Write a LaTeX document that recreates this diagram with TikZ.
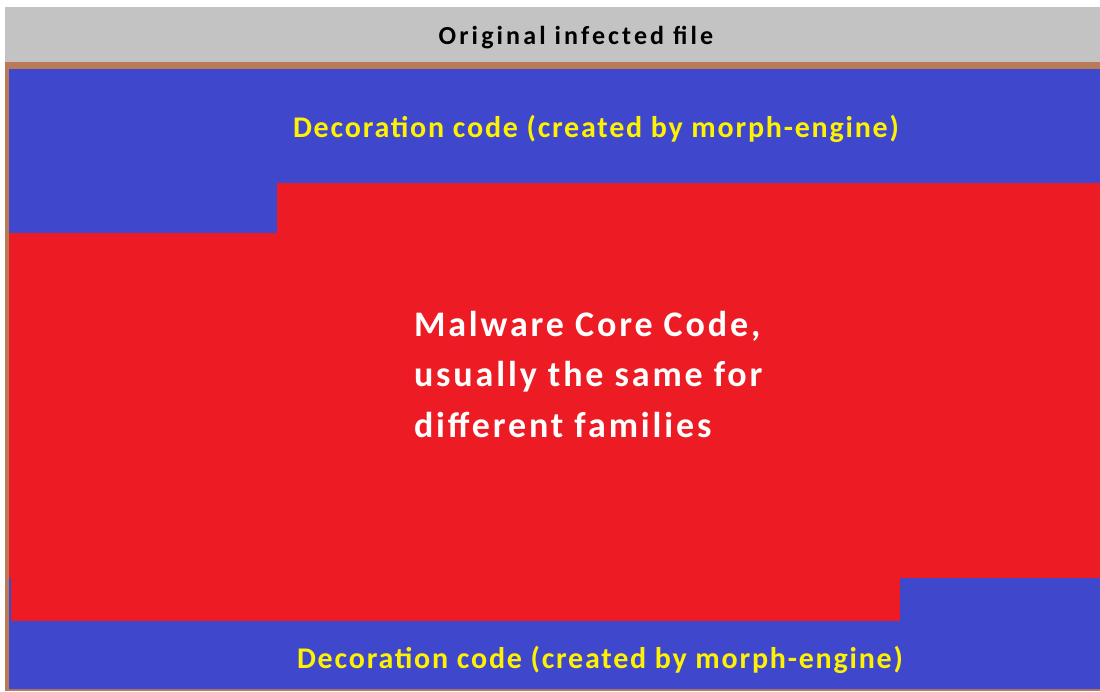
\documentclass[tikz,border=0pt]{standalone}
\usepackage{fontspec}
\setmainfont{Carlito}
\newfontfamily\titlefont[LetterSpace=12]{Carlito}
\newfontfamily\decofont[LetterSpace=6]{Carlito}
\newfontfamily\corefont[LetterSpace=8]{Carlito}
\definecolor{bandgray}{HTML}{C3C3C3}
\definecolor{framebrown}{HTML}{B97A57}
\definecolor{decoblue}{HTML}{3F48CC}
\definecolor{corered}{HTML}{ED1C24}
\definecolor{decoyellow}{HTML}{FFF200}
\tikzset{
  lbl/.style={inner sep=0pt, outer sep=0pt, anchor=base},
  toplbl/.style={lbl, text=black, font=\titlefont\bfseries\fontsize{26}{31}\selectfont},
  decolbl/.style={lbl, text=decoyellow, font=\decofont\bfseries\fontsize{30}{36}\selectfont},
  corelbl/.style={lbl, text=white, font=\corefont\bfseries\fontsize{36}{50}\selectfont, anchor=base west},
}
\begin{document}
\begin{tikzpicture}[x=1pt,y=-1pt]
\useasboundingbox (0,0) rectangle (1100,691);
\fill[white] (0,0) rectangle (1100,691);
% header band
\fill[bandgray] (5,7) rectangle (1100,62);
% frame
\fill[framebrown] (5,62) rectangle (1100,691);
% top decoration
\fill[decoblue] (9,69) -- (1100,69) -- (1100,183) -- (277,183) -- (277,233) -- (9,233) -- cycle;
% core
\fill[corered] (277,183) -- (1100,183) -- (1100,578) -- (900,578) -- (900,621) -- (9,621) -- (9,233) -- (277,233) -- cycle;
% bottom decoration
\fill[decoblue] (9,578) -- (11,578) -- (11,621) -- (900,621) -- (900,578) -- (1100,578) -- (1100,689) -- (9,689) -- cycle;
% labels
\node[toplbl] (title) at (576,44) {Original infected file};
\node[decolbl] (decotop) at (596,137) {Decoration code (created by morph-engine)};
\node[decolbl] (decobot) at (600,668) {Decoration code (created by morph-engine)};
\node[corelbl] (core1) at (414,336) {Malware Core Code,};
\node[corelbl] (core2) at (414,386) {usually the same for};
\node[corelbl] (core3) at (414,437) {different families};
\end{tikzpicture}
\end{document}
